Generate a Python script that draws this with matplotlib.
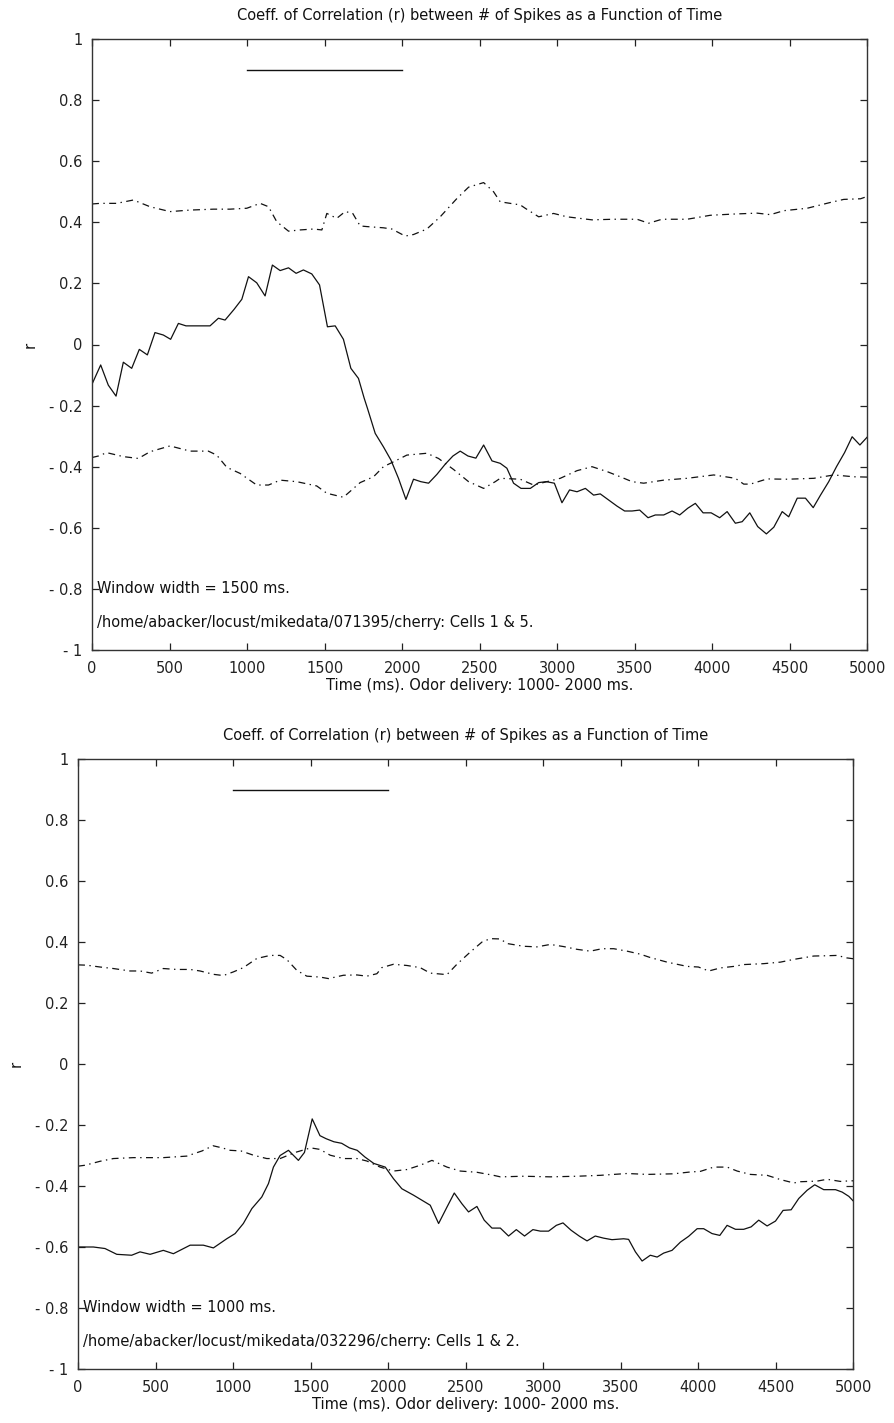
import matplotlib
matplotlib.use("Agg")
import matplotlib.pyplot as plt

# ---------------- data ----------------
top_solid_t = [0, 56, 105, 155, 202, 256, 305, 357, 406, 460, 507, 557, 606, 761, 815, 858, 916, 966,
               1009, 1062, 1116, 1163, 1213, 1267, 1316, 1363, 1417, 1467, 1518, 1568, 1621, 1669, 1718,
               1755, 1776, 1826, 1879, 1927, 1976, 2024, 2073, 2120, 2170, 2224, 2277, 2327, 2374, 2424,
               2475, 2525, 2579, 2632, 2675, 2718, 2766, 2826, 2880, 2929, 2981, 3030, 3079, 3127, 3181,
               3234, 3277, 3331, 3385, 3434, 3482, 3531, 3585, 3632, 3686, 3740, 3789, 3841, 3890, 3940,
               3992, 4047, 4095, 4148, 4192, 4241, 4292, 4348, 4396, 4450, 4492, 4547, 4600, 4650, 4697,
               4750, 4800, 4852, 4901, 4951, 5000]
top_solid_r = [-0.13, -0.067, -0.133, -0.169, -0.058, -0.078, -0.016, -0.034, 0.039, 0.031, 0.017, 0.069,
               0.061, 0.061, 0.086, 0.080, 0.115, 0.148, 0.222, 0.202, 0.159, 0.260, 0.242, 0.251, 0.233,
               0.244, 0.231, 0.195, 0.058, 0.061, 0.017, -0.078, -0.111, -0.176, -0.209, -0.291, -0.335,
               -0.378, -0.438, -0.507, -0.441, -0.449, -0.454, -0.425, -0.392, -0.365, -0.349, -0.365,
               -0.372, -0.329, -0.381, -0.389, -0.405, -0.454, -0.471, -0.471, -0.452, -0.449, -0.454,
               -0.518, -0.476, -0.482, -0.471, -0.493, -0.489, -0.509, -0.529, -0.545, -0.545, -0.542,
               -0.567, -0.558, -0.558, -0.545, -0.558, -0.536, -0.520, -0.551, -0.551, -0.567, -0.547,
               -0.585, -0.580, -0.551, -0.596, -0.620, -0.598, -0.547, -0.564, -0.503, -0.503, -0.534,
               -0.493, -0.449, -0.400, -0.354, -0.302, -0.329, -0.302]

top_upper_t = [0, 52, 159, 267, 374, 503, 632, 783, 890, 998, 1084, 1138, 1191, 1267, 1342, 1428, 1482,
               1514, 1578, 1632, 1680, 1729, 1772, 1879, 1933, 2019, 2073, 2159, 2245, 2353, 2428, 2525,
               2589, 2632, 2761, 2793, 2880, 2976, 3062, 3224, 3363, 3514, 3589, 3675, 3837, 3987, 4137,
               4288, 4374, 4460, 4611, 4761, 4847, 4955, 5000]
top_upper_r = [0.46, 0.462, 0.462, 0.473, 0.451, 0.435, 0.440, 0.443, 0.443, 0.446, 0.462, 0.451, 0.402,
               0.371, 0.375, 0.378, 0.375, 0.429, 0.413, 0.435, 0.43, 0.388, 0.386, 0.382, 0.378, 0.355,
               0.360, 0.378, 0.418, 0.478, 0.515, 0.530, 0.500, 0.467, 0.457, 0.446, 0.418, 0.429, 0.418,
               0.408, 0.41, 0.41, 0.397, 0.41, 0.41, 0.423, 0.427, 0.43, 0.425, 0.438, 0.446, 0.465,
               0.475, 0.477, 0.485]

top_lower_t = [0, 41, 95, 202, 299, 374, 503, 632, 750, 804, 869, 955, 1062, 1138, 1213, 1320, 1449,
               1514, 1621, 1729, 1815, 1879, 1944, 2030, 2159, 2234, 2331, 2428, 2525, 2600, 2632, 2761,
               2847, 2933, 3019, 3127, 3224, 3321, 3406, 3482, 3557, 3686, 3837, 4009, 4148, 4202, 4245,
               4353, 4482, 4654, 4783, 4912, 5000]
top_lower_r = [-0.37, -0.365, -0.354, -0.367, -0.373, -0.351, -0.332, -0.349, -0.349, -0.362, -0.402,
               -0.422, -0.460, -0.460, -0.444, -0.449, -0.463, -0.487, -0.500, -0.452, -0.433, -0.400,
               -0.384, -0.362, -0.356, -0.373, -0.409, -0.449, -0.471, -0.449, -0.438, -0.441, -0.460,
               -0.449, -0.438, -0.413, -0.400, -0.416, -0.433, -0.449, -0.454, -0.444, -0.438, -0.427,
               -0.438, -0.457, -0.457, -0.440, -0.441, -0.438, -0.427, -0.433, -0.434]

bot_solid_t = [0, 99, 174, 250, 346, 400, 465, 550, 615, 723, 808, 873, 959, 1013, 1066, 1121, 1185, 1228,
               1260, 1303, 1357, 1421, 1460, 1510, 1560, 1600, 1650, 1700, 1750, 1800, 1850, 1907, 1981,
               2034, 2088, 2163, 2271, 2325, 2379, 2426, 2475, 2518, 2572, 2619, 2669, 2723, 2776, 2826,
               2879, 2933, 2981, 3034, 3084, 3127, 3179, 3234, 3282, 3335, 3389, 3443, 3518, 3550, 3594,
               3637, 3690, 3734, 3776, 3830, 3884, 3937, 3992, 4034, 4088, 4138, 4185, 4239, 4292, 4340,
               4389, 4443, 4497, 4546, 4598, 4647, 4701, 4750, 4808, 4884, 4927, 4970, 5000]
bot_solid_r = [-0.60, -0.600, -0.605, -0.624, -0.627, -0.616, -0.624, -0.611, -0.622, -0.594, -0.594,
               -0.603, -0.573, -0.556, -0.523, -0.474, -0.436, -0.392, -0.338, -0.30, -0.283, -0.316,
               -0.29, -0.18, -0.235, -0.245, -0.255, -0.26, -0.275, -0.283, -0.305, -0.326, -0.338,
               -0.376, -0.409, -0.430, -0.463, -0.523, -0.469, -0.423, -0.458, -0.485, -0.467, -0.512,
               -0.538, -0.538, -0.564, -0.543, -0.564, -0.543, -0.548, -0.548, -0.529, -0.521, -0.545,
               -0.565, -0.580, -0.564, -0.571, -0.576, -0.573, -0.575, -0.616, -0.646, -0.627, -0.633,
               -0.62, -0.611, -0.584, -0.565, -0.540, -0.540, -0.556, -0.562, -0.529, -0.542, -0.542,
               -0.534, -0.512, -0.531, -0.515, -0.48, -0.478, -0.441, -0.414, -0.396, -0.412, -0.412,
               -0.42, -0.434, -0.450]

bot_upper_t = [0, 56, 142, 228, 335, 400, 475, 550, 637, 723, 787, 873, 937, 1002, 1066, 1153, 1239, 1303,
               1347, 1411, 1475, 1561, 1615, 1712, 1798, 1862, 1927, 1959, 2034, 2121, 2206, 2271, 2379,
               2443, 2529, 2605, 2658, 2723, 2766, 2873, 2959, 3045, 3131, 3217, 3303, 3379, 3454, 3540,
               3626, 3690, 3798, 3927, 4000, 4067, 4142, 4228, 4292, 4421, 4529, 4615, 4744, 4830, 4895,
               4955, 5000]
bot_upper_r = [0.325, 0.324, 0.318, 0.313, 0.305, 0.305, 0.298, 0.313, 0.310, 0.310, 0.305, 0.294, 0.29,
               0.302, 0.316, 0.346, 0.356, 0.356, 0.342, 0.307, 0.288, 0.285, 0.28, 0.291, 0.292, 0.288,
               0.296, 0.316, 0.327, 0.323, 0.316, 0.298, 0.293, 0.327, 0.367, 0.40, 0.411, 0.41, 0.395,
               0.386, 0.384, 0.392, 0.385, 0.376, 0.37, 0.378, 0.378, 0.37, 0.36, 0.349, 0.334, 0.320,
               0.318, 0.305, 0.315, 0.32, 0.326, 0.329, 0.334, 0.343, 0.354, 0.355, 0.356, 0.348, 0.345]

bot_lower_t = [0, 45, 142, 228, 357, 550, 701, 800, 870, 930, 981, 1050, 1131, 1217, 1303, 1400, 1500,
               1560, 1626, 1712, 1798, 1862, 1948, 2034, 2121, 2206, 2282, 2379, 2465, 2572, 2679, 2723,
               2873, 3045, 3217, 3368, 3540, 3669, 3841, 3948, 4013, 4099, 4185, 4250, 4335, 4443, 4529,
               4615, 4658, 4765, 4830, 4916, 4981, 5000]
bot_lower_r = [-0.335, -0.332, -0.319, -0.31, -0.307, -0.307, -0.302, -0.285, -0.268, -0.275, -0.283,
               -0.285, -0.299, -0.31, -0.31, -0.29, -0.275, -0.28, -0.299, -0.31, -0.31, -0.318, -0.338,
               -0.351, -0.346, -0.332, -0.316, -0.338, -0.351, -0.355, -0.365, -0.370, -0.368, -0.37,
               -0.368, -0.365, -0.359, -0.362, -0.36, -0.354, -0.352, -0.338, -0.338, -0.351, -0.362,
               -0.365, -0.379, -0.39, -0.386, -0.384, -0.378, -0.385, -0.383, -0.383]

odor_window = [1000, 2000]
odor_bar_level = 0.9

x_ticks = [0, 500, 1000, 1500, 2000, 2500, 3000, 3500, 4000, 4500, 5000]
y_ticks = [-1, -0.8, -0.6, -0.4, -0.2, 0, 0.2, 0.4, 0.6, 0.8, 1]
y_ticklabels = ['- 1', '- 0.8', '- 0.6', '- 0.4', '- 0.2', '0', '0.2', '0.4', '0.6', '0.8', '1']

title_text = "Coeff. of Correlation (r) between # of Spikes as a Function of Time"
xlabel_text = "Time (ms). Odor delivery: 1000- 2000 ms."
panels = [
    dict(solid=(top_solid_t, top_solid_r), upper=(top_upper_t, top_upper_r),
         lower=(top_lower_t, top_lower_r),
         notes=["Window width = 1500 ms.", "/home/abacker/locust/mikedata/071395/cherry: Cells 1 & 5."]),
    dict(solid=(bot_solid_t, bot_solid_r), upper=(bot_upper_t, bot_upper_r),
         lower=(bot_lower_t, bot_lower_r),
         notes=["Window width = 1000 ms.", "/home/abacker/locust/mikedata/032296/cherry: Cells 1 & 2."]),
]

# ---------------- drawing ----------------
plt.rcParams['font.family'] = ['DejaVu Sans']
plt.rcParams['lines.scale_dashes'] = False

W, H = 895, 1423
fig = plt.figure(figsize=(W / 100, H / 100), dpi=100)
fig.patch.set_facecolor('white')

rects = [
    [92 / W, 1 - 650 / H, 775.5 / W, 611 / H],
    [78 / W, 1 - 1369 / H, 775.5 / W, 610 / H],
]

dashdot = (0, (5.0, 3.2, 1.0, 3.2))
ink = '#111111'
fs = 10.5

for rect, p in zip(rects, panels):
    ax = fig.add_axes(rect)
    ax.plot(*p['solid'], color=ink, lw=0.9, ls='-')
    ax.plot(*p['upper'], color=ink, lw=0.9, ls=dashdot)
    ax.plot(*p['lower'], color=ink, lw=0.9, ls=dashdot)
    ax.plot(odor_window, [odor_bar_level, odor_bar_level], color=ink, lw=1.0)

    ax.set_xlim(0, 5000)
    ax.set_ylim(-1, 1)
    ax.set_xticks(x_ticks)
    ax.set_xticklabels([str(v) for v in x_ticks])
    ax.set_yticks(y_ticks)
    ax.set_yticklabels(y_ticklabels)
    ax.tick_params(direction='in', length=5, width=0.9, top=True, right=True,
                   labelsize=fs, colors='#222222')
    ax.tick_params(axis='x', pad=8)
    ax.tick_params(axis='y', pad=7)
    for s in ax.spines.values():
        s.set_linewidth(1.0)
        s.set_color('#333333')

    ax.set_title(title_text, fontsize=fs, pad=14, color='#111111')
    ax.set_xlabel(xlabel_text, fontsize=fs, labelpad=1, color='#111111')
    ax.set_ylabel('r', fontsize=fs, labelpad=8, color='#111111')

    ax.text(30, -0.80, p['notes'][0], fontsize=fs, va='center', ha='left', color='#111111')
    ax.text(30, -0.91, p['notes'][1], fontsize=fs, va='center', ha='left', color='#111111')

fig.savefig('out.png', dpi=100, facecolor='white')
